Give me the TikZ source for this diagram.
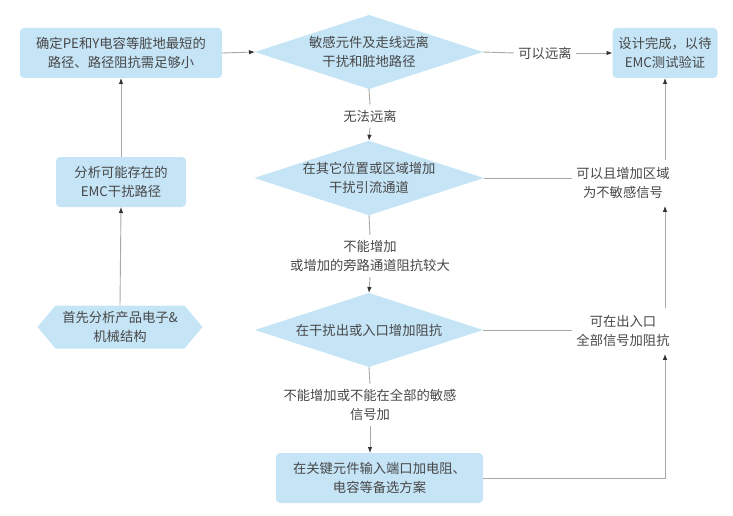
\documentclass[tikz,border=0pt]{standalone}
\usepackage{fontspec}
\setmainfont{Noto Sans CJK SC}
\usetikzlibrary{shapes.geometric,shapes.symbols,arrows.meta,calc}
\definecolor{boxfill}{HTML}{C5E4F6}
\definecolor{txt}{HTML}{474747}
\definecolor{ln}{HTML}{A8A8A8}
\begin{document}
\begin{tikzpicture}[x=1pt,y=-1pt,
  every node/.style={font=\fontsize{13.3pt}{19pt}\selectfont, text=txt, align=center},
  procbox/.style={rectangle, rounded corners=4pt, fill=boxfill, inner sep=0pt, outer sep=0pt},
  decbox/.style={diamond, fill=boxfill, inner sep=0pt, outer sep=0pt, minimum width=228pt, minimum height=74pt, aspect=3.08},
  startbox/.style={signal, signal to=east and west, signal pointer angle=100, fill=boxfill, inner sep=0pt, outer sep=0pt, minimum width=165pt, minimum height=43pt},
  lbl/.style={inner xsep=4pt, inner ysep=5pt},
  conn/.style={draw=ln, line width=0.9pt},
  arr/.style={conn, -{Latex[length=6pt,width=4.5pt,color=black!80]}}
]
\useasboundingbox (0,0) rectangle (733,516);

\node[procbox, minimum width=202pt, minimum height=50pt] (a) at (121,53) {确定PE和Y电容等脏地最短的\\路径、路径阻抗需足够小};
\node[decbox] (d1) at (369,52) {敏感元件及走线远离\\干扰和脏地路径};
\node[procbox, minimum width=105pt, minimum height=50pt] (b) at (665,53) {设计完成，以待\\EMC测试验证};
\node[procbox, minimum width=130pt, minimum height=50pt] (c) at (121,182) {分析可能存在的\\EMC干扰路径};
\node[decbox] (d2) at (369,178) {在其它位置或区域增加\\干扰引流通道};
\node[decbox] (d3) at (369,330) {在干扰出或入口增加阻抗};
\node[startbox] (h) at (120,327) {首先分析产品电子\&\\机械结构};
\node[procbox, minimum width=207pt, minimum height=50pt] (e) at (379.5,478) {在关键元件输入端口加电阻、\\电容等备选方案};

\node[lbl] (l1) at (545,53) {可以远离};
\node[lbl] (l2) at (370,116) {无法远离};
\node[lbl, inner ysep=7pt] (l3) at (623,183) {可以且增加区域\\为不敏感信号};
\node[lbl] (l4) at (370,256) {不能增加\\或增加的旁路通道阻抗较大};
\node[lbl, inner ysep=7pt] (l5) at (623,331) {可在出入口\\全部信号加阻抗};
\node[lbl] (l6) at (370,405) {不能增加或不能在全部的敏感\\信号加};

\draw[arr] (a.east) -- (d1.west);
\draw[conn] (d1.east) -- (l1.west);
\draw[arr] (l1.east) -- (b.west);
\draw[conn] (d1.south) -- (l2.north);
\draw[arr] (l2.south) -- (d2.north);
\draw[conn] (d2.south) -- (l4.north);
\draw[arr] (l4.south) -- (d3.north);
\draw[conn] (d3.south) -- (l6.north);
\draw[arr] (l6.south) -- (l6.south |- e.north);
\draw[arr] (h.north) -- (c.south);
\draw[arr] (c.north) -- (a.south);
\draw[conn] (d2.east) -- (d2.east -| l3.west);
\draw[conn] (d3.east) -- (d3.east -| l5.west);
\draw[arr] (b.south |- l3.north) -- (b.south);
\draw[arr] (b.south |- l5.north) -- (b.south |- l3.south);
\draw[arr] (e.east) -- (b.south |- e.east) -- (b.south |- l5.south);
\end{tikzpicture}
\end{document}
